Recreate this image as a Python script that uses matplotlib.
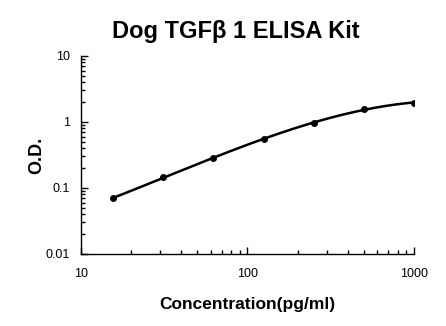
import numpy as np
import matplotlib
matplotlib.use("Agg")
import matplotlib.pyplot as plt
from matplotlib.ticker import FixedLocator, LogLocator, NullFormatter

plt.rcParams['font.family'] = ['Liberation Sans', 'DejaVu Sans']

# standard curve
conc = [15.6, 31.25, 62.5, 125, 250, 500, 1000]
od = [0.070, 0.147, 0.282, 0.552, 0.976, 1.556, 1.96]

x_ticks = [10, 100, 1000]
x_labels = ['10', '100', '1000']
y_ticks = [0.01, 0.1, 1, 10]
y_labels = ['0.01', '0.1', '1', '10']

fig = plt.figure(figsize=(4.46, 3.26), dpi=100)
ax = fig.add_axes([0.1816, 0.2209, 0.7464, 0.6074])

# smooth curve through the points (cubic fit in log-log space)
lx, ly = np.log10(conc), np.log10(od)
coef = np.polyfit(lx, ly, 3)
xs = np.linspace(lx[0], lx[-1], 200)
ax.plot(10 ** xs, 10 ** np.polyval(coef, xs), color='black', lw=1.8)
ax.plot(conc, od, 'o', color='black', ms=4)

ax.set_xscale('log')
ax.set_yscale('log')
ax.set_xlim(10, 1000)
ax.set_ylim(0.01, 10)
ax.xaxis.set_major_locator(FixedLocator(x_ticks))
ax.set_xticklabels(x_labels)
ax.yaxis.set_major_locator(FixedLocator(y_ticks))
ax.set_yticklabels(y_labels)
ax.xaxis.set_minor_locator(LogLocator(base=10, subs=np.arange(2, 10)))
ax.yaxis.set_minor_locator(LogLocator(base=10, subs=np.arange(2, 10)))
ax.xaxis.set_minor_formatter(NullFormatter())
ax.yaxis.set_minor_formatter(NullFormatter())

for s in ['top', 'right']:
    ax.spines[s].set_visible(False)
for s in ['left', 'bottom']:
    ax.spines[s].set_linewidth(1.0)
ax.tick_params(which='major', direction='in', length=5, width=1, labelsize=9)
ax.tick_params(axis='x', which='major', pad=10)
ax.tick_params(axis='y', which='major', pad=8)
ax.tick_params(which='minor', direction='in', length=3, width=1)

ax.set_title('Dog TGFβ 1 ELISA Kit', fontsize=17, fontweight='bold', pad=13, x=0.464)
ax.set_xlabel('Concentration(pg/ml)', fontsize=12.5, fontweight='bold', labelpad=12)
ax.set_ylabel('O.D.', fontsize=13, fontweight='bold', labelpad=0)

fig.savefig('out.png', dpi=100)
